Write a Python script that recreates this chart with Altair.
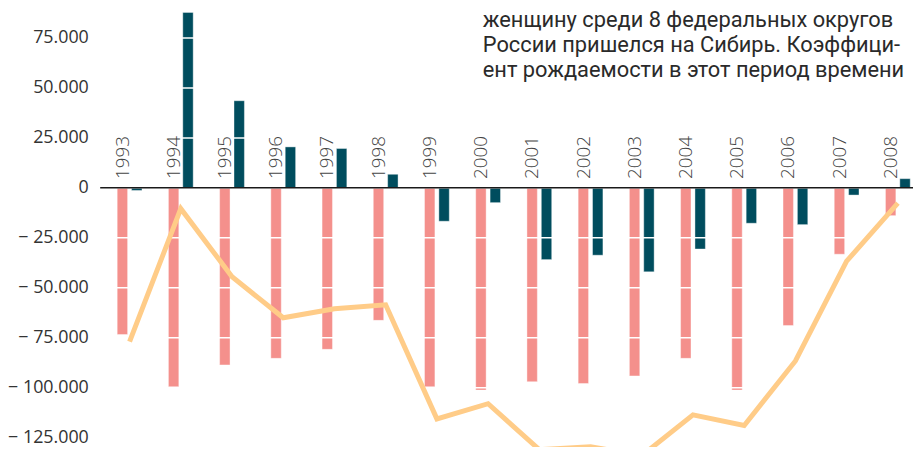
import altair as alt
import pandas as pd

years = [1993, 1994, 1995, 1996, 1997, 1998, 1999, 2000,
         2001, 2002, 2003, 2004, 2005, 2006, 2007, 2008]
natural = [-73400, -99500, -88600, -85300, -80800, -66300, -99500, -101200,
           -97000, -97900, -94100, -85300, -101200, -68900, -33200, -13900]
migration = [-1300, 87800, 43600, 20500, 19700, 6800, -16700, -7400,
             -35900, -33700, -42000, -30600, -17700, -18400, -3600, 4600]
total = [-76900, -10400, -44500, -65000, -60500, -58500, -115600, -108000,
         -131000, -129500, -134000, -113600, -118900, -86600, -36700, -7600]
y_ticks = [-125000, -100000, -75000, -50000, -25000, 0, 25000, 50000, 75000]
series_names = ["естественный прирост", "миграционный прирост"]
series_colors = ["#F4908C", "#004D5E"]
note_lines = [
    "женщину среди 8 федеральных округов",
    "России пришелся на Сибирь. Коэффици-",
    "ент рождаемости в этот период времени",
]

bars_df = pd.DataFrame({
    "year": years + years,
    "series": [series_names[0]] * len(years) + [series_names[1]] * len(years),
    "value": natural + migration,
})
line_df = pd.DataFrame({"year": years, "value": total})
year_df = pd.DataFrame({"year": years})
grid_df = pd.DataFrame({"value": y_ticks})

xscale = alt.Scale(paddingInner=0.439, paddingOuter=0.1545, align=0.95)
yscale = alt.Scale(domain=[-129700, 93000], nice=False, zero=False)
x_enc = alt.X("year:O", scale=xscale, axis=None)

label_expr = ("datum.value == 0 ? '0' : (datum.value < 0 ? '\u2212 ' : '') + "
              "replace(format(abs(datum.value), ',d'), ',', '.')")
yaxis = alt.Axis(values=y_ticks, labelExpr=label_expr, grid=False,
                 ticks=False, domain=False, labelPadding=12,
                 labelFontSize=18, labelFont="Open Sans",
                 labelColor="#333333", title=None)
y_enc = alt.Y("value:Q", scale=yscale, axis=yaxis, title=None)

bars = alt.Chart(bars_df).mark_bar(
    size=10.5, stroke="white", strokeWidth=0.8, strokeOpacity=0.5
).encode(
    x=x_enc,
    xOffset=alt.XOffset("series:N", sort=series_names,
                        scale=alt.Scale(paddingInner=0, paddingOuter=0)),
    y=y_enc,
    color=alt.Color("series:N", scale=alt.Scale(domain=series_names, range=series_colors),
                    legend=None),
)

grid = alt.Chart(grid_df).mark_rule(color="white", strokeWidth=1.5).encode(
    y=y_enc
)

zero = alt.Chart(pd.DataFrame({"value": [0]})).mark_rule(color="#1a1a1a", strokeWidth=1.5).encode(
    y=y_enc
)

line = alt.Chart(line_df).mark_line(
    color="#FFCC88", strokeWidth=5, clip=True, strokeJoin="miter"
).encode(
    x=x_enc,
    y=y_enc,
)

year_labels = alt.Chart(year_df).mark_text(
    angle=270, align="left", baseline="middle", dx=9, dy=-7,
    fontSize=19, font="Open Sans", fontWeight=300, color="#444444"
).encode(
    x=x_enc,
    y=alt.datum(0),
    text=alt.Text("year:O"),
)

note = alt.Chart(pd.DataFrame({"k": [0]})).mark_text(
    align="left", baseline="alphabetic", lineHeight=25.5, fontSize=22,
    font="Roboto", color="#2a2a2a", text=note_lines
).encode(
    x=alt.value(386),
    y=alt.value(25),
)

chart = alt.layer(bars, grid, zero, line, year_labels, note).properties(
    width=820,
    height=449,
    autosize=alt.AutoSizeParams(type="none"),
    padding={"left": 93, "top": -8, "right": 0, "bottom": 0},
).configure_view(stroke=None)

chart.save("out.html", embed_options={"renderer": "svg", "actions": False})
